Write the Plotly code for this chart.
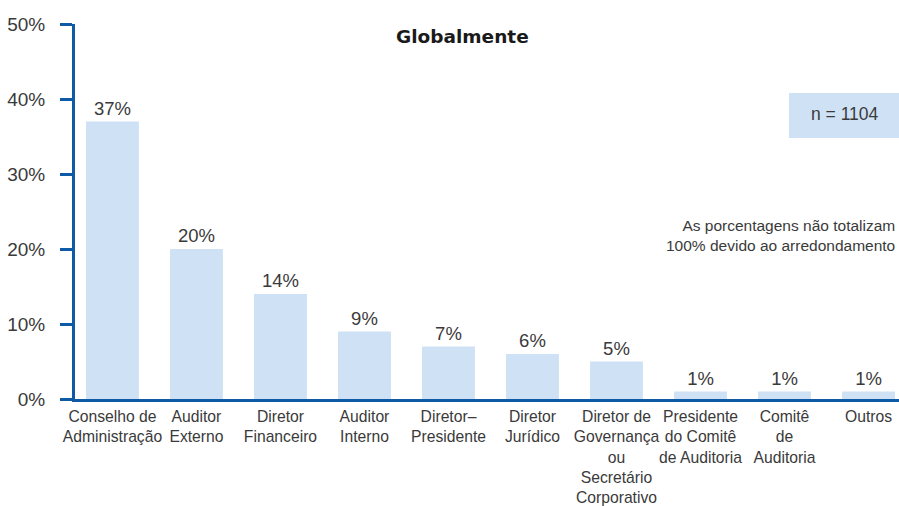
import plotly.graph_objects as go

categories = [
    "Conselho de<br>Administração",
    "Auditor<br>Externo",
    "Diretor<br>Financeiro",
    "Auditor<br>Interno",
    "Diretor–<br>Presidente",
    "Diretor<br>Jurídico",
    "Diretor de<br>Governança<br>ou<br>Secretário<br>Corporativo",
    "Presidente<br>do Comitê<br>de Auditoria",
    "Comitê<br>de<br>Auditoria",
    "Outros",
]
values = [37, 20, 14, 9, 7, 6, 5, 1, 1, 1]
y_ticks = [0, 10, 20, 30, 40, 50]

BLUE = "#0f5aa5"
BAR = "#cfe2f5"
TXT = "#3a3a3a"
FONT = "Liberation Sans"

W, H = 899, 506
L, T, R, B = 75, 24, 899, 399  # plot area in px

x = list(range(len(categories)))

fig = go.Figure()
fig.add_trace(go.Bar(
    x=x, y=values, width=0.63,
    marker=dict(color=BAR, line=dict(width=0)),
    text=[f"{v}%" for v in values],
    textposition="outside",
    textfont=dict(size=18.5, color=TXT, family=FONT),
    cliponaxis=False,
    hoverinfo="skip",
))

fig.update_layout(
    width=W, height=H,
    margin=dict(l=L, r=W - R, t=T, b=H - B, autoexpand=False),
    paper_bgcolor="white", plot_bgcolor="white",
    showlegend=False,
    font=dict(family=FONT, color=TXT),
    xaxis=dict(
        range=[-0.446, 9.363],
        tickmode="array", tickvals=x, ticktext=categories,
        tickfont=dict(size=15.7, color=TXT, family=FONT),
        tickangle=0,
        showgrid=False, zeroline=False, automargin=False,
        showline=True, linecolor=BLUE, linewidth=3,
        ticks="", ticklabelstandoff=1,
    ),
    yaxis=dict(
        range=[0, 50],
        tickmode="array", tickvals=y_ticks,
        ticktext=[f"{t}%" for t in y_ticks],
        tickfont=dict(size=19, color=TXT, family=FONT),
        showgrid=False, zeroline=False, automargin=False,
        showline=True, linecolor=BLUE, linewidth=3,
        ticks="outside", ticklen=12, tickwidth=3, tickcolor=BLUE,
        ticklabelstandoff=11,
    ),
)

def px_to_paper(px, py):
    return (px - L) / (R - L), (B - py) / (B - T)

ax, ay = px_to_paper(462, 36)
fig.add_annotation(text="<b>Globalmente</b>", x=ax, y=ay, xref="paper", yref="paper",
                   xanchor="center", yanchor="middle",
                   showarrow=False, font=dict(size=18.5, color="#1a1a1a", family="DejaVu Sans"))

bx0, by0 = px_to_paper(789, 138)
bx1, by1 = px_to_paper(899, 93)
fig.add_shape(type="rect", xref="paper", yref="paper", x0=bx0, y0=by0, x1=bx1, y1=by1,
              fillcolor=BAR, line=dict(width=0), layer="below")
nx, ny = px_to_paper(845, 114)
fig.add_annotation(text="n = 1104", x=nx, y=ny, xref="paper", yref="paper",
                   xanchor="center", yanchor="middle",
                   showarrow=False, font=dict(size=17.5, color=TXT, family=FONT))
tx, ty = px_to_paper(897, 235)
fig.add_annotation(text="As porcentagens não totalizam<br>100% devido ao arredondamento",
                   x=tx, y=ty, xref="paper", yref="paper", xanchor="right", yanchor="middle",
                   align="right",
                   showarrow=False, font=dict(size=15.5, color=TXT, family=FONT))

# remove the default 8px page margin so the figure fills the window exactly
fig.write_html("out.html", config={"displayModeBar": False},
               post_script="document.body.style.margin='0';document.body.style.overflow='hidden';")
